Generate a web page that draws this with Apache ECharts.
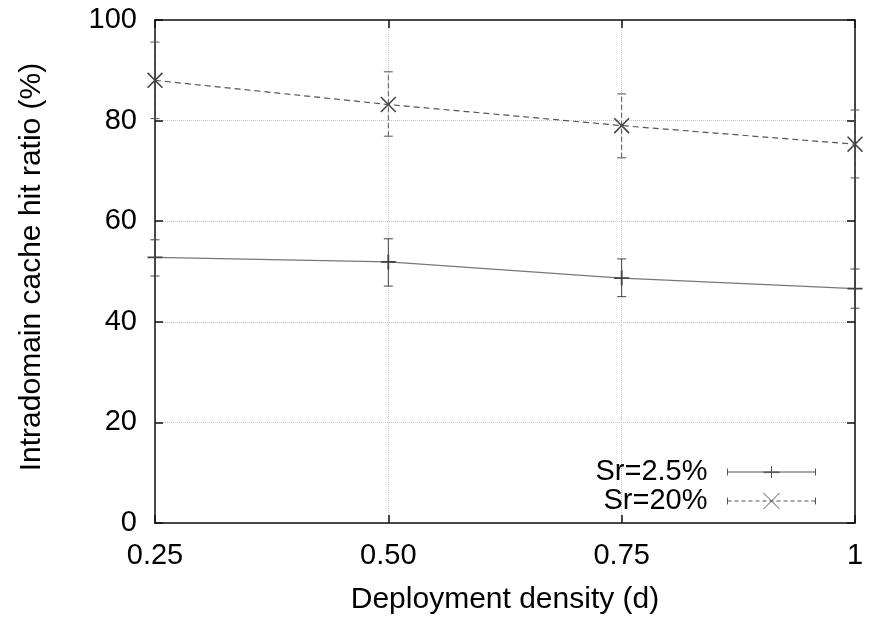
<!DOCTYPE html>
<html>
<head>
<meta charset="utf-8">
<title>Intradomain cache hit ratio</title>
<script src="https://cdn.jsdelivr.net/npm/echarts@6/dist/echarts.min.js"></script>
<style>
    html, body { margin: 0; padding: 0; background: #fff; }
    #chart { width: 869px; height: 620px; }
</style>
</head>
<body>
<div id="chart"></div>
<script>
// 数据
const densities = [0.25, 0.5, 0.75, 1];
const xTickLabels = ['0.25', '0.50', '0.75', '1'];

const sr25Mean = [52.8, 51.9, 48.7, 46.6];
const sr25Low = [49.1, 47.1, 45.0, 42.7];
const sr25High = [56.3, 56.5, 52.5, 50.5];

const sr20Mean = [88.0, 83.2, 79.0, 75.3];
const sr20Low = [80.4, 76.9, 72.6, 68.6];
const sr20High = [95.6, 89.7, 85.3, 82.1];

const seriesNames = ['Sr=2.5%', 'Sr=20%'];

const FONT = '"Liberation Sans", Arial, Helvetica, sans-serif';

// 点的形状: 加号和叉
const plusPath = 'path://M8.8,0h2.4v20h-2.4zM0,8.8h20v2.4h-20z';
const crossPath = 'path://M0,1.4L1.4,0L20,18.6L18.6,20ZM18.6,0L20,1.4L1.4,20L0,18.6Z';

// 图例的小样: 误差线两端 + 中间的点
const legendIcon25 = 'path://M0,2.5V9.5M0,6H88M88,2.5V9.5M44,0V12M36,6H52M36,6.6H52';
let dashes = '';
for (let x = 0; x < 88; x += 7) {
    dashes += 'M' + x + ',8H' + Math.min(x + 4, 88);
}
const legendIcon20 = 'path://M0,4.5V11.5M88,4.5V11.5' + dashes + 'M36,0L52,16M52,0L36,16';

function pairs(xs, ys) {
    return xs.map((x, i) => [x, ys[i]]);
}

function triples(xs, lo, hi) {
    return xs.map((x, i) => [x, lo[i], hi[i]]);
}

//误差线，用 custom series 画
function errorBars(color, dash) {
    return function (params, api) {
        const x = api.value(0);
        const lo = api.coord([x, api.value(1)]);
        const hi = api.coord([x, api.value(2)]);
        const w = 4.5;
        const st = (d) => ({ stroke: color, lineWidth: 1, lineDash: d, fill: null });
        return {
            type: 'group',
            children: [
                { type: 'line', shape: { x1: lo[0], y1: lo[1], x2: hi[0], y2: hi[1] }, style: st(dash) },
                { type: 'line', shape: { x1: lo[0] - w, y1: lo[1], x2: lo[0] + w, y2: lo[1] }, style: st(null) },
                { type: 'line', shape: { x1: hi[0] - w, y1: hi[1], x2: hi[0] + w, y2: hi[1] }, style: st(null) }
            ]
        };
    };
}

const axisLine = { show: true, onZero: false, lineStyle: { color: '#111', width: 1.5 } };
const axisTick = { show: true, inside: true, length: 8, lineStyle: { color: '#111', width: 1.5 } };

function legendRow(name, icon, h, top) {
    return {
        orient: 'vertical',
        align: 'right',
        right: 51,
        top: top,
        padding: 0,
        itemWidth: 88,
        itemHeight: h,
        selectedMode: false,
        textStyle: { fontFamily: FONT, fontSize: 29, color: '#000', padding: [0, 15, 0, 0] },
        data: [{
            name: name,
            icon: icon,
            itemStyle: { color: 'none', borderColor: '#555', borderWidth: 1 }
        }]
    };
}

const chart = echarts.init(document.getElementById('chart'));

chart.setOption({
    animation: false,
    backgroundColor: '#fff',
    grid: { left: 155, right: 14, top: 20, bottom: 96 },
    legend: [
        legendRow(seriesNames[0], legendIcon25, 12, 472 - 14.5),
        legendRow(seriesNames[1], legendIcon20, 16, 501 - 14.5)
    ],
    xAxis: [{
        type: 'value',
        min: 0.25,
        max: 1,
        interval: 0.25,
        name: 'Deployment density (d)',
        nameLocation: 'middle',
        nameGap: 62,
        nameTextStyle: { fontFamily: FONT, fontSize: 30, color: '#000' },
        axisLine: axisLine,
        axisTick: axisTick,
        axisLabel: {
            margin: 18,
            fontFamily: FONT,
            fontSize: 29,
            color: '#000',
            showMinLabel: true,
            showMaxLabel: true,
            formatter: (v) => xTickLabels[densities.indexOf(v)] ?? ''
        },
        splitLine: { show: true, lineStyle: { color: '#c4c4c4', type: 'dotted', width: 1 } }
    }, {
        type: 'value',
        position: 'top',
        min: 0.25,
        max: 1,
        interval: 0.25,
        axisLine: axisLine,
        axisTick: axisTick,
        axisLabel: { show: false },
        splitLine: { show: false }
    }],
    yAxis: [{
        type: 'value',
        min: 0,
        max: 100,
        interval: 20,
        name: 'Intradomain cache hit ratio (%)',
        nameLocation: 'middle',
        nameGap: 108,
        nameTextStyle: { fontFamily: FONT, fontSize: 30, color: '#000', padding: [0, 0, 0, 9] },
        axisLine: axisLine,
        axisTick: axisTick,
        axisLabel: { margin: 18, fontFamily: FONT, fontSize: 29, color: '#000' },
        splitLine: { show: true, lineStyle: { color: '#c4c4c4', type: 'dotted', width: 1 } }
    }, {
        type: 'value',
        position: 'right',
        min: 0,
        max: 100,
        interval: 20,
        axisLine: axisLine,
        axisTick: axisTick,
        axisLabel: { show: false },
        splitLine: { show: false }
    }],
    series: [{
        name: seriesNames[0] + ' err',
        type: 'custom',
        renderItem: errorBars('#444', null),
        data: triples(densities, sr25Low, sr25High),
        clip: false,
        silent: true,
        z: 2
    }, {
        name: seriesNames[1] + ' err',
        type: 'custom',
        renderItem: errorBars('#555', [5, 3]),
        data: triples(densities, sr20Low, sr20High),
        clip: false,
        silent: true,
        z: 2
    }, {
        name: seriesNames[0],
        type: 'line',
        data: pairs(densities, sr25Mean),
        symbol: plusPath,
        symbolSize: 15,
        showAllSymbol: true,
        clip: false,
        itemStyle: { color: '#444' },
        lineStyle: { color: '#777', width: 1.3 },
        z: 3
    }, {
        name: seriesNames[1],
        type: 'line',
        data: pairs(densities, sr20Mean),
        symbol: crossPath,
        symbolSize: 16,
        showAllSymbol: true,
        clip: false,
        itemStyle: { color: '#444' },
        lineStyle: { color: '#555', width: 1.2, type: [6, 4] },
        z: 3
    }]
});
</script>
</body>
</html>
